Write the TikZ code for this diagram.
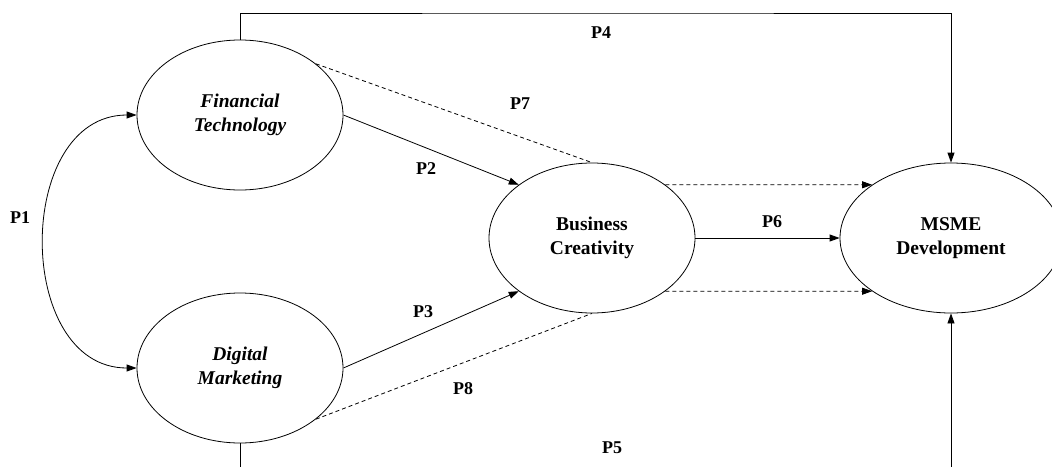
\documentclass[tikz,border=0pt]{standalone}
\usepackage{fontspec}
\setmainfont{Liberation Serif}
\usetikzlibrary{shapes.geometric,arrows.meta}
\begin{document}
\begin{tikzpicture}[x=1pt,y=-1pt,
  construct/.style={draw, line width=0.8pt, ellipse, inner sep=0pt,
    minimum width=206pt, minimum height=150pt, align=center,
    font=\fontsize{19.5}{24}\selectfont\bfseries},
  plabel/.style={font=\fontsize{18}{20}\selectfont\bfseries, inner sep=0pt},
  link/.style={line width=0.8pt},
  tip/.style={-{Triangle[length=10pt,width=7pt]}},
  both/.style={{Triangle[length=10pt,width=7pt]}-{Triangle[length=10pt,width=7pt]}},
  weak/.style={dash pattern=on 4pt off 3pt}]
\useasboundingbox (0,0) rectangle (1052,466);
\clip (0,0) rectangle (1052,466);

% constructs
\node[construct] (ft) at (240,115) {\itshape Financial\\\itshape Technology};
\node[construct] (dm) at (240,368) {\itshape Digital\\\itshape Marketing};
\node[construct] (bc) at (592,238) {Business\\Creativity};
\node[construct, minimum width=222pt] (msme) at (951,238) {MSME\\Development};

% routing points for the outer paths
\coordinate (top) at (600,13);
\coordinate (bot) at (600,490);

% P1: correlation between the two predictors
\draw[link, both] (ft.west) .. controls (14,115) and (14,368) .. (dm.west);

% direct paths
\draw[link, tip] (ft.east) -- (bc.144);
\draw[link, tip] (dm.east) -- (bc.216);
\draw[link, tip] (bc.east) -- (msme.west);
\draw[link, tip] (ft.north) |- (top) -| (msme.north);
\draw[link, tip] (dm.south) |- (bot) -| (msme.south);

% mediated paths
\draw[link, weak] (ft.34) -- (bc.north);
\draw[link, weak] (dm.-34) -- (bc.south);
\draw[link, weak, tip] (bc.36) -- (msme.146);
\draw[link, weak, tip] (bc.-36) -- (msme.-146);

% path labels
\node[plabel] (p1) at (20,218) {P1};
\node[plabel] (p2) at (426,169) {P2};
\node[plabel] (p3) at (423,312) {P3};
\node[plabel] (p4) at (601,33) {P4};
\node[plabel] (p5) at (612,448) {P5};
\node[plabel] (p6) at (772,222) {P6};
\node[plabel] (p7) at (520,104) {P7};
\node[plabel] (p8) at (463,389) {P8};
\end{tikzpicture}
\end{document}
